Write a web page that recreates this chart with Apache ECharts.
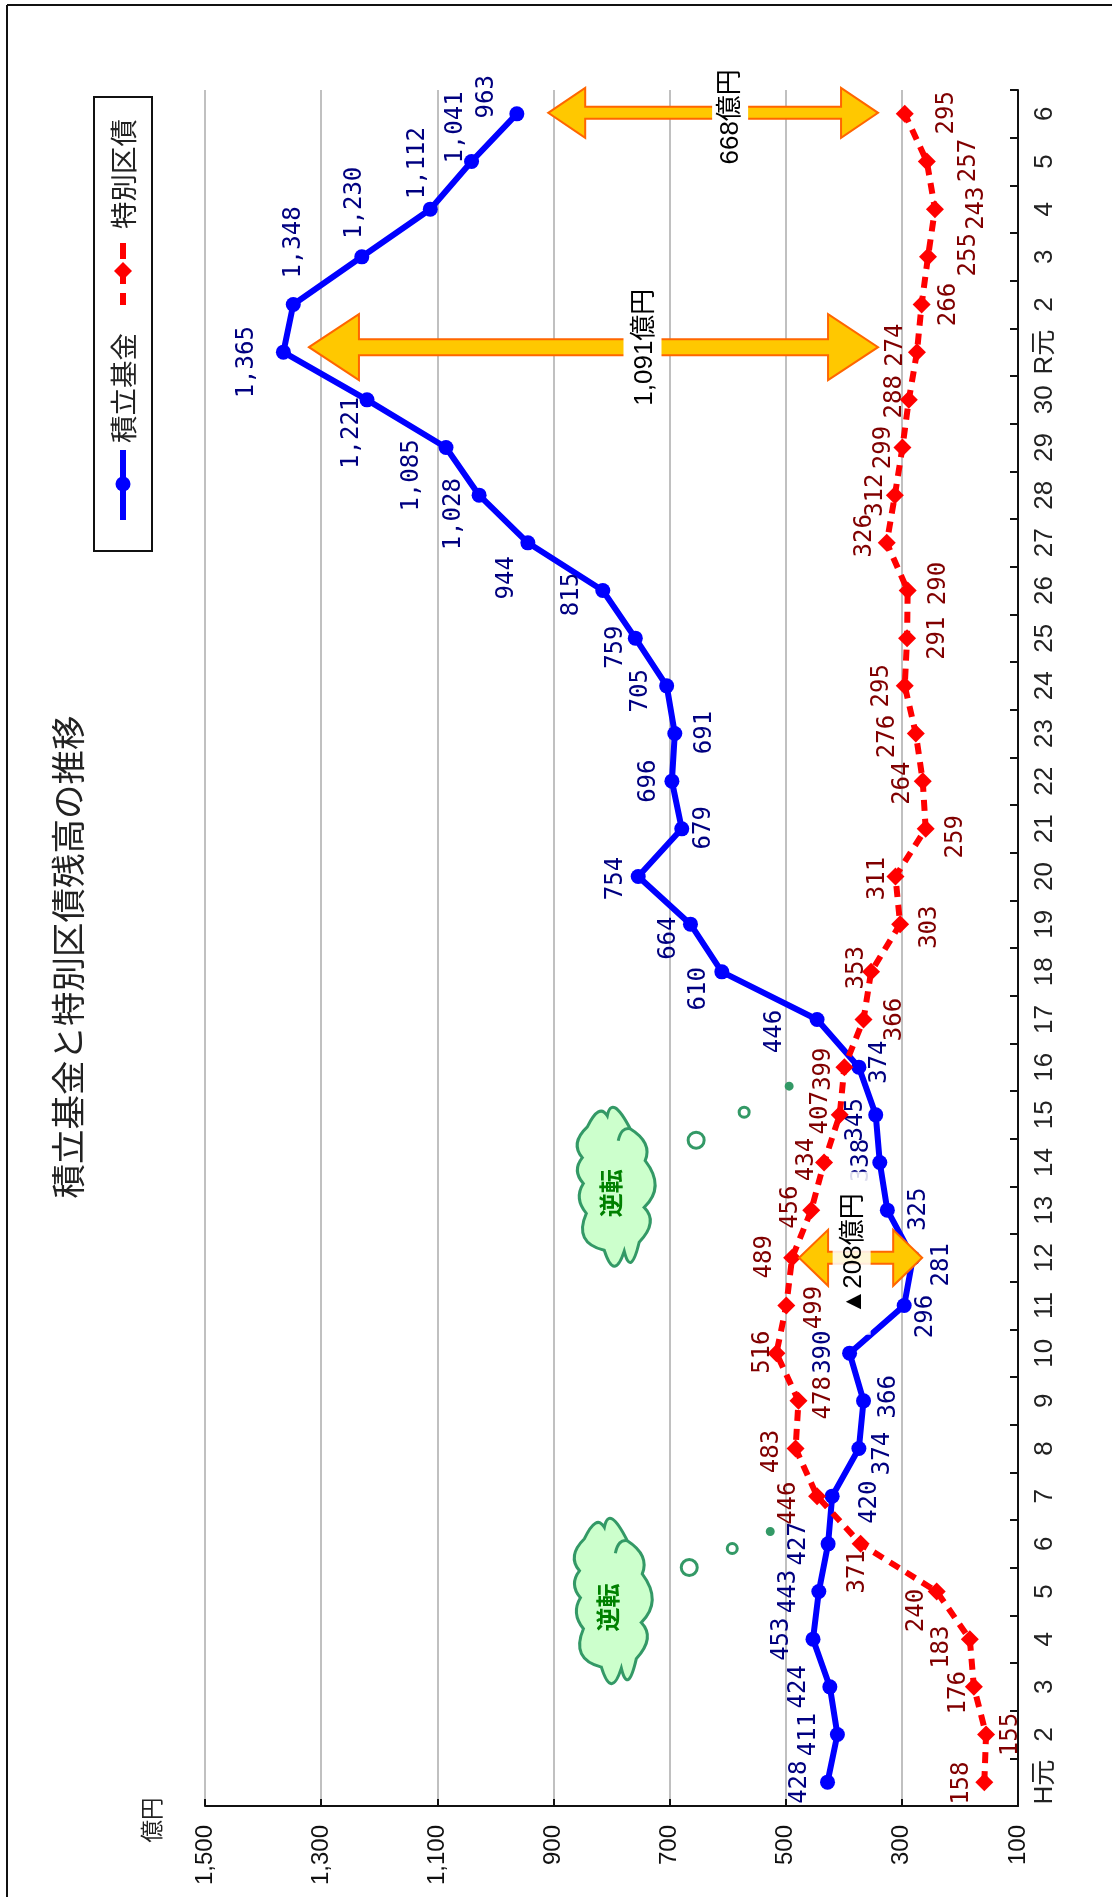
<!DOCTYPE html>
<html>
<head>
    <meta charset="UTF-8">
    <title>積立基金と特別区債残高の推移</title>
    <script type="text/javascript" src="https://cdn.jsdelivr.net/npm/echarts@6/dist/echarts.min.js"></script>
    <style>
        html, body { margin: 0; padding: 0; background: #fff; }
        #chart { width: 1112px; height: 1897px; }
    </style>
</head>
<body>
<div id="chart"></div>

<script type="text/javascript">
    // 年度
    var categories = ['H元','2','3','4','5','6','7','8','9','10','11','12','13','14','15','16','17','18','19','20',
        '21','22','23','24','25','26','27','28','29','30','R元','2','3','4','5','6'];
    var valueTicks = [100, 300, 500, 700, 900, 1100, 1300, 1500];
    // 積立基金
    var fundValues = [428,411,424,453,443,427,420,374,366,390,296,281,325,338,345,374,446,610,664,754,
        679,696,691,705,759,815,944,1028,1085,1221,1365,1348,1230,1112,1041,963];
    // 特別区債
    var bondValues = [158,155,176,183,240,371,446,483,478,516,499,489,456,434,407,399,366,353,303,311,
        259,264,276,295,291,290,326,312,299,288,274,266,255,243,257,295];

    // ラベルのずらし量 [dx, dy]
    var fundLabelShift = [[-28,0],[-29,0],[-31,0],[-31,0],[-30,0],[-29,0],[38,6],[24,5],[25,-4],[-26,-1],[22,11],[29,7],
        [31,-1],[-18,-2],[-20,5],[21,-5],[-42,12],[-23,17],[-22,14],[-22,2],[22,-1],[-23,0],[30,-1],[-26,5],[-20,9],
        [-31,4],[-21,35],[-25,19],[-34,28],[-15,33],[-37,10],[0,-62],[-7,-54],[-13,-46],[-16,-34],[-30,-17]];
    var bondLabelShift = [[-23,1],[25,0],[-15,6],[-28,8],[-20,19],[-3,28],[-28,7],[-24,3],[25,-3],[-14,-1],[28,2],[-27,-1],
        [-21,-3],[-17,-3],[-19,-2],[-21,2],[31,0],[-14,-4],[30,3],[-18,2],[30,8],[-20,2],[-28,3],[-23,0],[31,0],
        [31,-7],[-22,-7],[-19,0],[-19,0],[-14,-3],[-21,-7],[27,0],[41,-2],[42,-1],[42,-1],[42,-1]];

    // 差額の矢印
    var arrowFrom = [909, 1321, 477];
    var arrowTo = [341, 341, 265];
    var arrowCat = [35, 30, 11];
    var arrowText = ['668億円', '1,091億円', '▲208億円'];
    var arrowStyle = [
        {dy:-1, head:25, shaft:6, len:37, textDx:18, textDy:4, box:[-1,35,-52,56], boxOpacity:1},
        {dy:-5, head:33, shaft:8, len:50, textDx:51, textDy:0, box:[30,68,-60,60], boxOpacity:1},
        {dy:0, head:28, shaft:6, len:29, textDx:-7, textDy:-4, box:[-28,10,-86,77], boxOpacity:0.85}
    ];

    // 逆転の雲
    var cloudValue = [797, 792];
    var cloudCat = [4, 12];
    var cloudDy = [10, -23];
    var cloudScaleY = [1.04, 1];
    var cloudText = ['逆転', '逆転'];
    var bubbleShift = [
        [[76,-34,8],[119,-53,5],[157,-70,3]],
        [[80,-47,8],[128,-75,5],[173,-101,3]]
    ];
    // 雲の輪郭 [x, y, 山のx, 山のy] 中心からの相対
    var cloudOutline = [
        [-29,-61],[-9,-72,-18,-76],[14,-59,-1,-80],[29,-27,29,-44],[28,20,39,-2],[23,55,34,36],
        [8,64,15,75],[-12,63,-2,79],[-30,26,-32,50],[-33,-4,-37,11],[-34,-30,-39,-17],[-29,-61,-39,-45]
    ];

    function cloudPath() {
        var start = cloudOutline[0];
        var d = 'M' + start[0] + ' ' + start[1];
        for (var i = 1; i < cloudOutline.length; i++) {
            var p0 = cloudOutline[i - 1], p = cloudOutline[i];
            var cx = 2 * p[2] - (p0[0] + p[0]) / 2;
            var cy = 2 * p[3] - (p0[1] + p[1]) / 2;
            d += ' Q' + cx + ' ' + cy + ' ' + p[0] + ' ' + p[1];
        }
        // 内側の巻き込み
        return d + ' Z M2 -47 Q5 -61 14 -59';
    }

    function labelItems(values, shifts) {
        var items = [];
        for (var i = 0; i < values.length; i++) {
            items.push({
                value: values[i],
                // 回転後の座標で指定する
                label: {offset: [-shifts[i][1], shifts[i][0]]}
            });
        }
        return items;
    }

    function numberText(v) {
        return String(v).replace(/\B(?=(\d{3})+$)/g, ',');
    }

    function renderArrow(params, api) {
        var i = params.dataIndex;
        var st = arrowStyle[i];
        var a = api.coord([api.value(0), api.value(2)]);
        var b = api.coord([api.value(1), api.value(2)]);
        var x0 = a[0], x1 = b[0], cy = a[1] + st.dy;
        var mid = (x0 + x1) / 2;
        return {
            type: 'group',
            children: [{
                type: 'polygon',
                shape: {points: [
                    [x0, cy], [x0 + st.len, cy - st.head], [x0 + st.len, cy - st.shaft], [x1 - st.len, cy - st.shaft],
                    [x1 - st.len, cy - st.head], [x1, cy], [x1 - st.len, cy + st.head], [x1 - st.len, cy + st.shaft],
                    [x0 + st.len, cy + st.shaft], [x0 + st.len, cy + st.head]
                ]},
                style: {fill: '#FFC800', stroke: '#FF6600', lineWidth: 2}
            }, {
                type: 'rect',
                shape: {x: mid + st.box[0], y: cy + st.box[2], width: st.box[1] - st.box[0], height: st.box[3] - st.box[2]},
                style: {fill: '#fff', opacity: st.boxOpacity}
            }, {
                type: 'text',
                x: mid + st.textDx,
                y: cy + st.textDy,
                rotation: Math.PI / 2,
                style: {
                    text: arrowText[i], align: 'center', verticalAlign: 'middle',
                    fontSize: 26, fontFamily: '"Liberation Sans","Noto Sans CJK JP"', fill: '#000'
                }
            }]
        };
    }

    function renderCloud(params, api) {
        var i = params.dataIndex;
        var p = api.coord([api.value(0), api.value(1)]);
        var sy = cloudScaleY[i];
        var children = [{
            type: 'path',
            shape: {pathData: cloudPath(), layout: 'cover', x: -39, y: -80 * sy, width: 78, height: 159 * sy},
            style: {fill: '#CCFFCC', stroke: '#339966', lineWidth: 3}
        }, {
            type: 'text',
            x: -5, y: 6,
            rotation: Math.PI / 2,
            style: {
                text: cloudText[i], align: 'center', verticalAlign: 'middle',
                fontSize: 24, fontWeight: 'bold', fontFamily: '"Noto Sans CJK JP"', fill: '#008000'
            }
        }];
        bubbleShift[i].forEach(function (b) {
            children.push({
                type: 'circle',
                shape: {cx: b[0], cy: b[1], r: b[2]},
                style: {fill: b[2] > 4 ? '#fff' : '#339966', stroke: '#339966', lineWidth: 3}
            });
        });
        return {type: 'group', x: p[0], y: p[1] + cloudDy[i], children: children};
    }

    var arrowData = arrowFrom.map(function (v, i) { return [v, arrowTo[i], arrowCat[i]]; });
    var cloudData = cloudValue.map(function (v, i) { return [v, cloudCat[i]]; });

    var labelFont = '"DejaVu Sans Mono"';
    var legendFont = '"Noto Sans CJK JP"';

    var option = {
        animation: false,
        backgroundColor: '#fff',
        grid: {left: 205, right: 94, top: 90, bottom: 91},
        xAxis: {
            type: 'value',
            inverse: true,
            min: valueTicks[0],
            max: valueTicks[valueTicks.length - 1],
            interval: 200,
            axisLine: {show: true, lineStyle: {color: '#111', width: 2}},
            axisTick: {show: true, inside: true, length: 7, lineStyle: {color: '#111', width: 2}},
            splitLine: {show: true, lineStyle: {color: '#c0c0c0', width: 2}},
            axisLabel: {
                rotate: 90, margin: 19, fontSize: 24, color: '#111',
                fontFamily: '"Liberation Sans Narrow","Liberation Sans"',
                showMinLabel: true, showMaxLabel: true,
                formatter: function (v) { return numberText(v); }
            }
        },
        yAxis: {
            type: 'category',
            position: 'right',
            data: categories,
            axisLine: {show: true, lineStyle: {color: '#111', width: 2}},
            axisTick: {show: true, inside: true, length: 8, lineStyle: {color: '#111', width: 2}},
            axisLabel: {
                rotate: 90, margin: 14, fontSize: 26, color: '#222', interval: 0,
                fontFamily: '"Liberation Sans Narrow","Liberation Sans","Noto Sans CJK JP"'
            }
        },
        series: [{
            name: '積立基金',
            type: 'line',
            z: 3,
            data: labelItems(fundValues, fundLabelShift),
            symbol: 'circle',
            symbolSize: 15,
            lineStyle: {color: '#0000FF', width: 6},
            itemStyle: {color: '#0000FF'},
            label: {
                show: true, position: 'inside', rotate: 90, fontSize: 24, color: '#000080',
                fontFamily: labelFont, align: 'center', verticalAlign: 'middle',
                formatter: function (p) { return numberText(p.value); }
            }
        }, {
            name: '特別区債',
            type: 'line',
            z: 4,
            data: labelItems(bondValues, bondLabelShift),
            symbol: 'diamond',
            symbolSize: 18,
            lineStyle: {color: '#FF0000', width: 6, type: [11, 8]},
            itemStyle: {color: '#FF0000'},
            label: {
                show: true, position: 'inside', rotate: 90, fontSize: 24, color: '#800000',
                fontFamily: labelFont, align: 'center', verticalAlign: 'middle',
                formatter: function (p) { return numberText(p.value); }
            }
        }, {
            type: 'custom',
            z: 6,
            coordinateSystem: 'cartesian2d',
            data: arrowData,
            encode: {x: [0, 1], y: 2},
            renderItem: renderArrow,
            silent: true
        }, {
            type: 'custom',
            z: 5,
            coordinateSystem: 'cartesian2d',
            data: cloudData,
            encode: {x: 0, y: 1},
            renderItem: renderCloud,
            silent: true
        }],
        graphic: [
            {type: 'line', shape: {x1: 7, y1: 5, x2: 1112, y2: 5}, style: {stroke: '#111', lineWidth: 2}},
            {type: 'line', shape: {x1: 7, y1: 5, x2: 7, y2: 1897}, style: {stroke: '#111', lineWidth: 2}},
            {type: 'text', x: 68, y: 957, rotation: Math.PI / 2, style: {
                text: '積立基金と特別区債残高の推移', align: 'center', verticalAlign: 'middle',
                fontSize: 34.5, fontFamily: legendFont, fill: '#222'}},
            {type: 'text', x: 151, y: 1820, rotation: Math.PI / 2, style: {
                text: '億円', align: 'center', verticalAlign: 'middle',
                fontSize: 22.5, fontFamily: legendFont, fill: '#222'}},
            {type: 'rect', shape: {x: 94, y: 97, width: 58, height: 454}, style: {fill: '#fff', stroke: '#111', lineWidth: 2}},
            {type: 'line', shape: {x1: 123, y1: 450, x2: 123, y2: 520}, style: {stroke: '#0000FF', lineWidth: 6}},
            {type: 'circle', shape: {cx: 123, cy: 484, r: 7.5}, style: {fill: '#0000FF'}},
            {type: 'text', x: 124, y: 388, rotation: Math.PI / 2, style: {
                text: '積立基金', align: 'center', verticalAlign: 'middle',
                fontSize: 27.5, fontFamily: legendFont, fill: '#222'}},
            {type: 'line', shape: {x1: 123, y1: 243, x2: 123, y2: 305}, style: {stroke: '#FF0000', lineWidth: 6, lineDash: [16, 9]}},
            {type: 'polygon', shape: {points: [[123, 262], [132, 271], [123, 280], [114, 271]]}, style: {fill: '#FF0000'}},
            {type: 'text', x: 124, y: 174, rotation: Math.PI / 2, style: {
                text: '特別区債', align: 'center', verticalAlign: 'middle',
                fontSize: 27.5, fontFamily: legendFont, fill: '#222'}}
        ]
    };

    var myChart = echarts.init(document.getElementById('chart'));
    myChart.setOption(option);
</script>
</body>
</html>
